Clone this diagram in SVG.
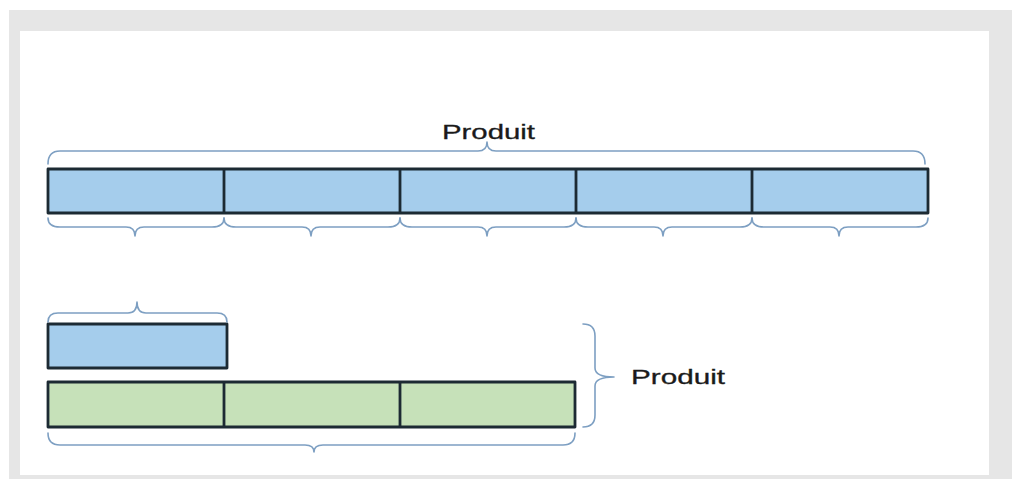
<svg xmlns="http://www.w3.org/2000/svg" width="1012" height="479" viewBox="0 0 1012 479">
<style>
.box{stroke:#1c2a33;stroke-width:2.8;stroke-linejoin:round}
.blue{fill:#a5cdec}
.green{fill:#c6e1b9}
.div{stroke:#1c2a33;stroke-width:2.8}
.brace{fill:none;stroke:#7d9fc2;stroke-width:1.6;stroke-linecap:round;stroke-linejoin:round}
.lbl{font-family:"Liberation Sans",Arial,sans-serif;font-size:20px;fill:#1a1a1a;stroke:#1a1a1a;stroke-width:0.3}
</style>
<rect x="0" y="0" width="1012" height="479" fill="#ffffff"/>
<rect x="9" y="10" width="1003" height="469" fill="#e6e6e6"/>
<rect x="20" y="31" width="969" height="444" fill="#ffffff"/>

<g id="top-bar">
<rect class="box blue" x="48" y="169" width="880" height="44"/>
<line class="div" x1="224" y1="169" x2="224" y2="213"/>
<line class="div" x1="400" y1="169" x2="400" y2="213"/>
<line class="div" x1="576" y1="169" x2="576" y2="213"/>
<line class="div" x1="752" y1="169" x2="752" y2="213"/>
</g>

<g id="blue-box">
<rect class="box blue" x="48" y="324" width="179" height="44"/>
</g>

<g id="green-bar">
<rect class="box green" x="48" y="382" width="527" height="45"/>
<line class="div" x1="224" y1="382" x2="224" y2="427"/>
<line class="div" x1="400" y1="382" x2="400" y2="427"/>
</g>

<g id="label-top">
<text class="lbl" x="442" y="139" textLength="93" lengthAdjust="spacingAndGlyphs">Produit</text>
</g>
<g id="label-right">
<text class="lbl" x="631" y="384" textLength="94" lengthAdjust="spacingAndGlyphs">Produit</text>
</g>

<g id="braces">
<path class="brace" d="M48,164 Q48,151 60,151 L478,151 Q487,151 487,142 Q487,151 496,151 L913,151 Q925,151 925,164"/>
<path class="brace" d="M48,218 Q48,227 60,227 L126,227 Q135,227 135,236 Q135,227 144,227 L212,227 Q224,227 224,218"/>
<path class="brace" d="M224,218 Q224,227 236,227 L302,227 Q311,227 311,236 Q311,227 320,227 L388,227 Q400,227 400,218"/>
<path class="brace" d="M400,218 Q400,227 412,227 L478,227 Q487,227 487,236 Q487,227 496,227 L564,227 Q576,227 576,218"/>
<path class="brace" d="M576,218 Q576,227 588,227 L654,227 Q663,227 663,236 Q663,227 672,227 L740,227 Q752,227 752,218"/>
<path class="brace" d="M752,218 Q752,227 764,227 L830,227 Q839,227 839,236 Q839,227 848,227 L916,227 Q928,227 928,218"/>
<path class="brace" d="M48,322 Q48,313 58,313 L128,313 Q137,313 137,302 Q137,313 146,313 L217,313 Q227,313 227,322"/>
<path class="brace" d="M583,324 Q595,324 595,336 L595,368 Q595,377 614,377 Q595,377 595,386 L595,415 Q595,427 583,427"/>
<path class="brace" d="M48,433 Q48,445 60,445 L305,445 Q314,445 314,452 Q314,445 323,445 L563,445 Q575,445 575,433"/>
</g>
</svg>
